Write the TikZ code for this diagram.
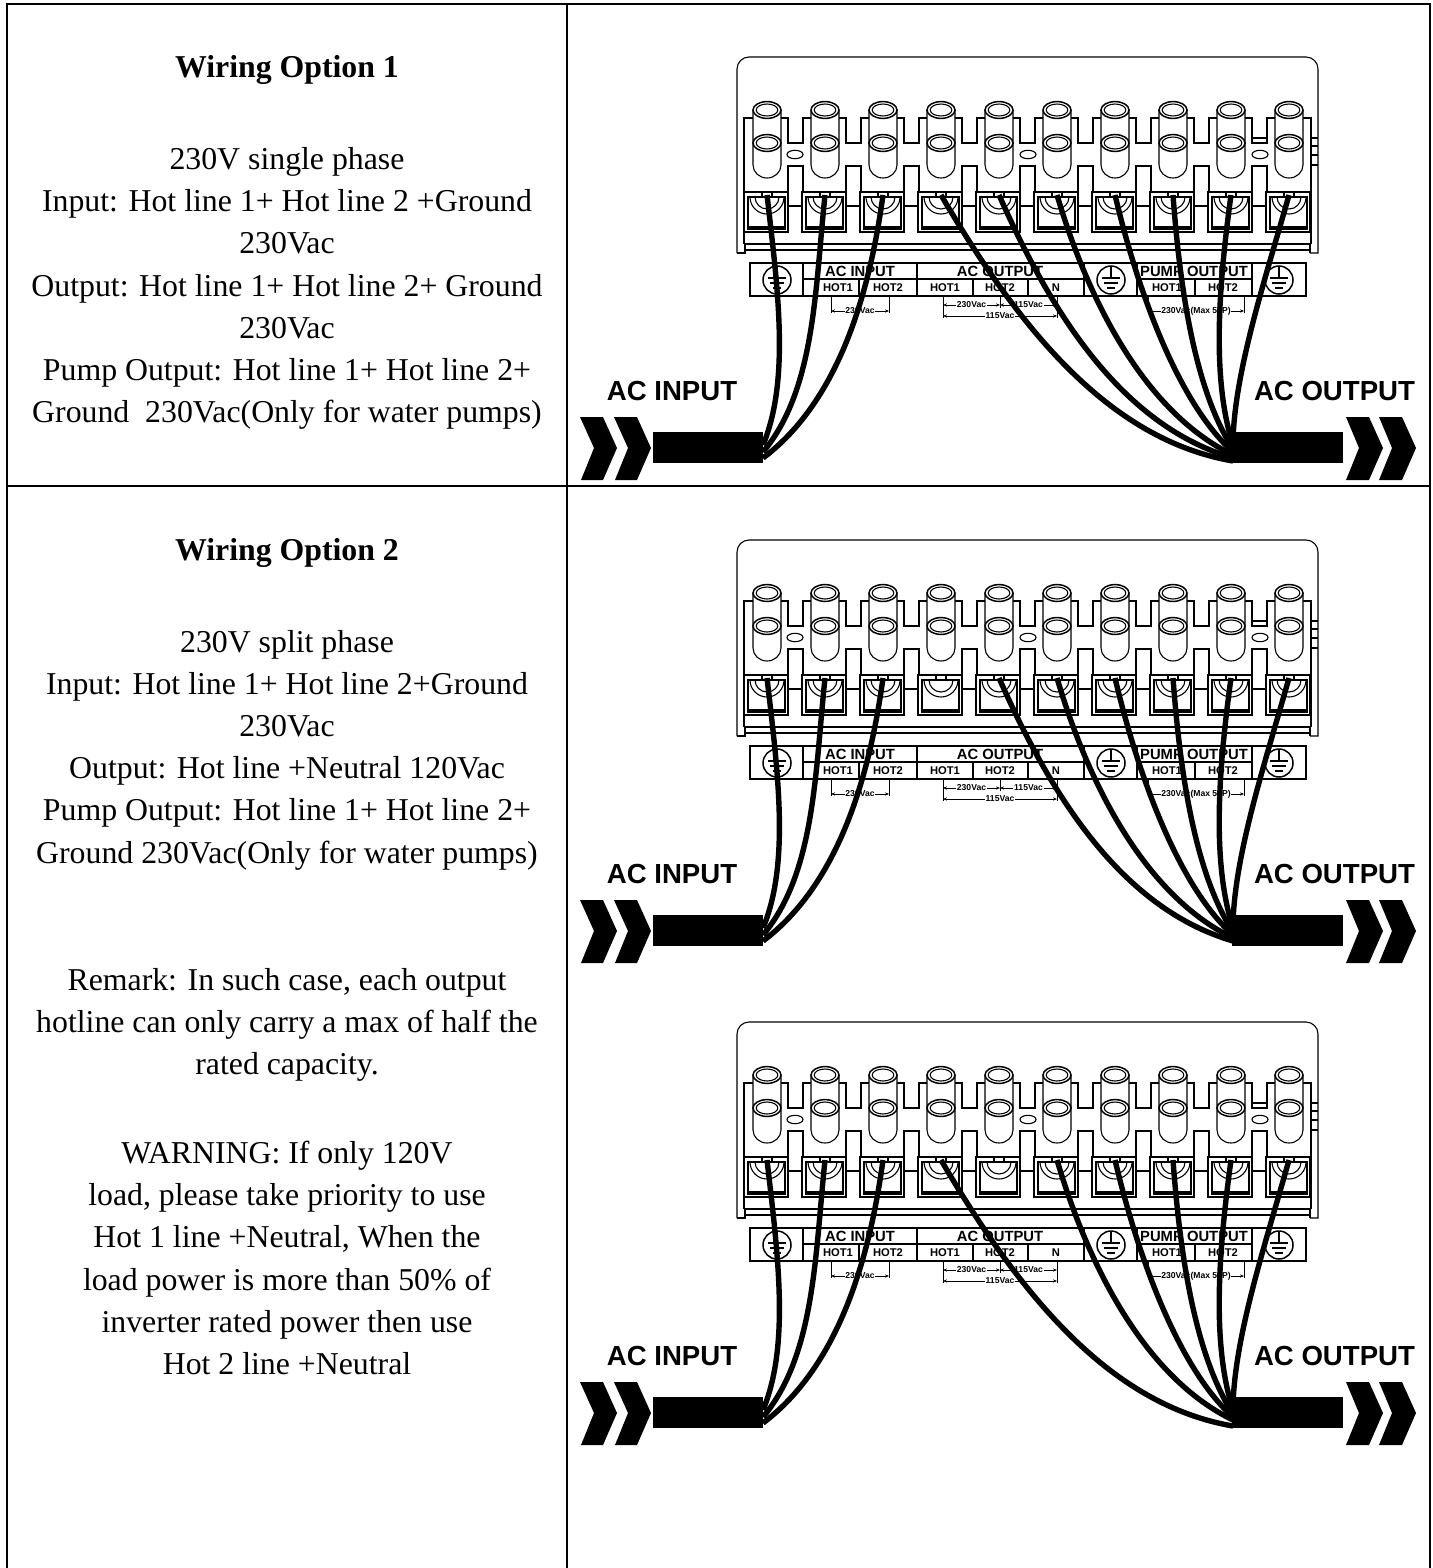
\documentclass[tikz,border=0pt]{standalone}
\usepackage{fontspec}
\setmainfont{Liberation Serif}
\setsansfont{Liberation Sans}
\usetikzlibrary{arrows.meta}
\usetikzlibrary{calc}

\tikzset{
    tableline/.style={black, line width=1pt},
    thinline/.style={black, line width=0.55pt},
    collar/.style={black, line width=0.75pt},
    wire/.style={black, line width=2.7pt},
    dimline/.style={black, line width=0.4pt},
    dimtip/.style={{Stealth[length=2pt,width=1.6pt]}-{Stealth[length=2pt,width=1.6pt]}},
    dimtext/.style={fill=white, inner sep=0.4pt, font=\sffamily\bfseries\fontsize{4.3}{5}\selectfont},
    platetitle/.style={font=\sffamily\bfseries\fontsize{7.4}{9}\selectfont, inner sep=0pt},
    platehot/.style={font=\sffamily\bfseries\fontsize{5.6}{7}\selectfont, inner sep=0pt},
    cablelabel/.style={font=\sffamily\bfseries\fontsize{13.8}{16}\selectfont, inner sep=0pt},
    bodytext/.style={align=center, inner sep=0pt, font=\fontsize{15.9}{21.1}\selectfont},
    headtext/.style={align=center, inner sep=0pt, font=\bfseries\fontsize{15.9}{21.1}\selectfont},
}

% terminal block with cables: #1 = vertical offset, #2 = terminal left without a wire
\newcommand{\acpanel}[2]{
    \begin{scope}[shift={(0,#1)}]
        % housing
        \draw[thinline] (737,253) -- (737,69) arc[start angle=180,end angle=90,radius=6pt] -- (1306,57)
            arc[start angle=90,end angle=0,radius=6pt] -- (1318,253) -- (1310,253);
        \draw[thinline] (737,253) -- (745,253) -- (745,244);
        \draw[thinline] (1310,253) -- (1310,244);
        \draw[thinline] (744,244) -- (1311,244);
        \draw[thinline] (744,250) -- (1310,250);
        \draw[thinline] (744,244) -- (744,118) -- (767,118);
        \draw[thinline] (1289,118) -- (1311,118) -- (1311,244);
        \foreach \ytick in {138,146,155,165}
            \draw[thinline] (1311,\ytick) -- (1318,\ytick);

        % notches between the posts
        \foreach \i [evaluate=\i as \xc using 767+58*(\i-1)] in {1,...,9} {
            \draw[thinline] (\xc+14,118) -- (\xc+21,118) -- (\xc+21,143) -- (\xc+36,143) -- (\xc+36,118) -- (\xc+44,118);
            \draw[thinline] (\xc+21,192) -- (\xc+21,166) -- (\xc+36,166) -- (\xc+36,192);
            \draw[thinline] (\xc+21,206) -- (\xc+36,206);
        }
        \draw[thinline] (1252,138) -- (1267,138);
        \foreach \xhole in {795,1028,1260}
            \draw[thinline] (\xhole,154.5) circle[x radius=4pt,y radius=2.1pt];

        % posts and terminals
        \foreach \i [evaluate=\i as \xc using 767+58*(\i-1)] in {1,...,10} {
            \fill[white] (\xc-14,110) rectangle (\xc+14,165);
            \draw[thinline, fill=white] (\xc-14,110) -- (\xc-14,165) arc[start angle=180,end angle=360,x radius=7pt,y radius=6.5pt] -- (\xc+14,110);
            \draw[collar, fill=white] (\xc,110) circle[x radius=7pt,y radius=4.2pt];
            \draw[thinline] (\xc,110) circle[x radius=5.4pt,y radius=3pt];
            \draw[collar, fill=white] (\xc,143) circle[x radius=7pt,y radius=4.2pt];
            \draw[thinline] (\xc,143) circle[x radius=5.4pt,y radius=3pt];
            \draw[thinline] (\xc-23,232) -- (\xc-23,192) -- (\xc+21,192) -- (\xc+21,232) -- cycle;
            \draw[thinline] (\xc-19,197) rectangle (\xc+18,229);
            \draw[thinline] (\xc-19,227) -- (\xc+18,227);
            \draw[thinline] (\xc-17,197) arc[start angle=180,end angle=360,radius=8.5pt];
            \draw[thinline] (\xc-12,197) arc[start angle=180,end angle=360,radius=6pt];
            \draw[thinline, fill=white] (\xc-5,192) rectangle (\xc+5,197);
            \coordinate (term\i) at (\xc,195);
        }

        % label plate
        \draw[thinline] (750,263) rectangle (1306,296);
        \foreach \xdiv in {803,917,1084,1137,1252}
            \draw[thinline] (\xdiv,263) -- (\xdiv,296);
        \foreach \xdiv in {859,973,1028,1195}
            \draw[thinline] (\xdiv,279) -- (\xdiv,296);
        \draw[thinline] (803,279) -- (1084,279);
        \draw[thinline] (1137,279) -- (1252,279);
        \node[platetitle] (titlein) at (860,271) {AC INPUT};
        \node[platetitle] (titleout) at (1000,271) {AC OUTPUT};
        \node[platetitle] (titlepump) at (1194,271) {PUMP OUTPUT};
        \foreach \xlab/\lab [count=\n] in {838/HOT1,888/HOT2,945/HOT1,1000/HOT2,1056/N,1167/HOT1,1223/HOT2}
            \node[platehot] (hot\n) at (\xlab,287.5) {\lab};

        % earth symbols
        \foreach \xgnd in {777,1111,1279} {
            \draw[collar] (\xgnd,280) circle (7pt);
            \draw[collar] (\xgnd,266) -- (\xgnd,278);
            \draw[collar] (\xgnd-9,278) -- (\xgnd+9,278);
            \draw[collar] (\xgnd-7,283) -- (\xgnd+7,283);
            \draw[collar] (\xgnd-4,288) -- (\xgnd+4,288);
        }

        % dimensions
        \draw[dimline] (831,296) -- (831,313);
        \draw[dimline] (889,296) -- (889,313);
        \draw[dimline, dimtip] (831,311) -- node[dimtext] (dimin) {230Vac} (889,311);
        \draw[dimline] (943,296) -- (943,318);
        \draw[dimline] (1000,296) -- (1000,308);
        \draw[dimline] (1057,296) -- (1057,318);
        \draw[dimline, dimtip] (943,305) -- node[dimtext] (dimhota) {230Vac} (1000,305);
        \draw[dimline, dimtip] (1000,305) -- node[dimtext] (dimhotb) {115Vac} (1057,305);
        \draw[dimline, dimtip] (943,316) -- node[dimtext] (dimhotc) {115Vac} (1057,316);
        \draw[dimline] (1148,296) -- (1148,313);
        \draw[dimline] (1244,296) -- (1244,313);
        \draw[dimline, dimtip] (1148,311) -- node[dimtext] (dimpump) {230Vac(Max 50P)} (1244,311);

        % cables
        \fill[black] (653,432) rectangle (763,463);
        \fill[black] (1232,432) rectangle (1343,463);
        \foreach \xs in {580,614}
            \fill[black] (\xs,417) -- (\xs+23,417) -- (\xs+37,448) -- (\xs+23,480) -- (\xs+1,480) -- (\xs+14,448) -- cycle;
        \foreach \xs in {1346,1379}
            \fill[black] (\xs,417) -- (\xs+23,417) -- (\xs+37,448) -- (\xs+23,480) -- (\xs,480) -- (\xs+13,448) -- cycle;
        \node[cablelabel] (acin) at (672,391) {AC INPUT};
        \node[cablelabel] (acout) at (1334.5,391) {AC OUTPUT};

        % wires
        \foreach \t/\ax/\ay/\bx/\by/\ey in {1/778/290/790/380/445, 2/815/290/815/390/452, 3/870/290/840/400/458} {
            \coordinate (in\t) at (763,\ey);
            \draw[wire] (term\t) .. controls (\ax,\ay) and (\bx,\by) .. (in\t);
        }
        \foreach \t/\ax/\ay/\bx/\by/\ey in {4/1020/330/1110/440/461, 5/1050/310/1120/425/458, 6/1085/290/1140/410/455,
            7/1135/280/1175/400/452, 8/1180/290/1195/390/449, 9/1218/290/1212/380/445, 10/1265/280/1235/370/440} {
            \ifnum\t=#2\relax\else
                \coordinate (out\t) at (1233,\ey);
                \draw[wire] (term\t) .. controls (\ax,\ay) and (\bx,\by) .. (out\t);
            \fi
        }
    \end{scope}
}

\begin{document}
\begin{tikzpicture}[x=0.5pt, y=-0.5pt]
    \useasboundingbox (0,0) rectangle (1433,1568);

    % table rules
    \draw[tableline] (7,1568) -- (7,4) -- (1430,4) -- (1430,1568);
    \draw[tableline] (7,486) -- (1430,486);
    \draw[tableline] (567,4) -- (567,1568);

    % left column
    \node[headtext] (headone) at (287,70) {Wiring Option 1};
    \node[bodytext] (bodyone) at (287,288.5) {230V single phase\\
        Input: Hot line 1+ Hot line 2 +Ground\\
        230Vac\\
        Output: Hot line 1+ Hot line 2+ Ground\\
        230Vac\\
        Pump Output: Hot line 1+ Hot line 2+\\
        Ground\ \ 230Vac(Only for water pumps)};
    \node[headtext] (headtwo) at (287,553) {Wiring Option 2};
    \node[bodytext] (bodytwo) at (287,750) {230V split phase\\
        Input: Hot line 1+ Hot line 2+Ground\\
        230Vac\\
        Output: Hot line +Neutral 120Vac\\
        Pump Output: Hot line 1+ Hot line 2+\\
        Ground 230Vac(Only for water pumps)};
    \node[bodytext] (remark) at (287,1025) {Remark: In such case, each output\\
        hotline can only carry a max of half the\\
        rated capacity.};
    \node[bodytext] (warning) at (287,1258) {WARNING: If only 120V\\
        load, please take priority to use\\
        Hot 1 line +Neutral, When the\\
        load power is more than 50\% of\\
        inverter rated power then use\\
        Hot 2 line +Neutral};

    % right column
    \acpanel{0}{0}
    \acpanel{483}{4}
    \acpanel{965}{5}
\end{tikzpicture}
\end{document}
